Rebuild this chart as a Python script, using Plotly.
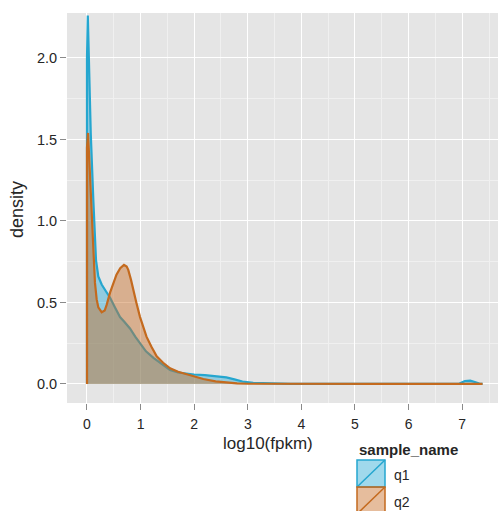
import plotly.graph_objects as go

# --- data ---
q1_x = [0, 0.0, 0.015, 0.035, 0.07, 0.118, 0.168, 0.211, 0.274, 0.35, 0.429, 0.52, 0.616, 0.70,
        0.802, 0.9, 0.989, 1.1, 1.24, 1.4, 1.55, 1.7, 1.86, 2.0, 2.2, 2.4, 2.6, 2.75, 2.9, 3.1,
        3.4, 3.8, 4.5, 5.5, 6.5, 6.95, 7.05, 7.15, 7.25, 7.32, 7.38]
q1_y = [0, 2.0, 2.26, 1.95, 1.54, 1.13, 0.76, 0.66, 0.61, 0.57, 0.53, 0.47, 0.41, 0.38,
        0.34, 0.29, 0.25, 0.20, 0.16, 0.12, 0.086, 0.07, 0.062, 0.058, 0.054, 0.048, 0.040, 0.028, 0.015, 0.006,
        0.002, 0.0005, 0, 0, 0, 0.002, 0.018, 0.02, 0.01, 0.002, 0]

q2_x = [0, 0.0, 0.02, 0.05, 0.087, 0.12, 0.149, 0.18, 0.211, 0.274, 0.33, 0.367, 0.43, 0.49,
        0.55, 0.62, 0.69, 0.74, 0.77, 0.82, 0.86, 0.92, 0.99, 1.05, 1.11, 1.2, 1.30, 1.42, 1.55,
        1.7, 1.86, 2.0, 2.17, 2.4, 2.6, 2.8, 3.0, 3.5, 4.5, 5.5, 6.5, 7.38]
q2_y = [0, 1.45, 1.54, 1.35, 1.09, 0.82, 0.62, 0.52, 0.47, 0.44, 0.45, 0.485, 0.56, 0.62,
        0.67, 0.71, 0.73, 0.72, 0.70, 0.64, 0.58, 0.50, 0.41, 0.35, 0.29, 0.23, 0.17, 0.13, 0.096,
        0.075, 0.061, 0.045, 0.03, 0.016, 0.008, 0.003, 0.001, 0, 0, 0, 0, 0]

samples = ["q1", "q2"]
x_ticks = [0, 1, 2, 3, 4, 5, 6, 7]
y_ticks = [0.0, 0.5, 1.0, 1.5, 2.0]

line_colors = {"q1": "#25A6CF", "q2": "#C46A1E"}
fill_colors = {"q1": "rgba(45,170,212,0.45)", "q2": "rgba(200,108,38,0.45)"}

FONT = "Liberation Sans, Arial, sans-serif"
TXT = "#262626"

fig = go.Figure()
for name, xs, ys in [("q1", q1_x, q1_y), ("q2", q2_x, q2_y)]:
    fig.add_trace(go.Scatter(
        x=xs, y=ys, mode="lines", name=name, fill="tozeroy",
        fillcolor=fill_colors[name],
        line=dict(color=line_colors[name], width=2.2),
        showlegend=False,
    ))

W, H = 498, 511
L, T, B = 67, 13, 108
pw, ph = W - L, H - T - B


def px2paper(px, py):
    return (px - L) / pw, (H - B - py) / ph


fig.update_layout(
    width=W, height=H,
    margin=dict(l=L, r=0, t=T, b=B),
    paper_bgcolor="white",
    plot_bgcolor="#E5E5E5",
    font=dict(family=FONT, size=12, color=TXT),
    xaxis=dict(
        range=[-0.373, 7.668], tickvals=x_ticks, ticktext=[str(v) for v in x_ticks],
        showgrid=True, gridcolor="white", gridwidth=1.4, zeroline=False, showline=False,
        ticks="outside", ticklen=6, tickcolor="#8A8A8A", tickwidth=1,
        ticklabelstandoff=2,
        tickfont=dict(size=14, color=TXT),
        minor=dict(tickvals=[0.5, 1.5, 2.5, 3.5, 4.5, 5.5, 6.5, 7.5], showgrid=True,
                   gridcolor="#F0F0F0", gridwidth=0.8, ticks=""),
    ),
    yaxis=dict(
        range=[-0.117, 2.276], tickvals=y_ticks, ticktext=["%.1f" % v for v in y_ticks],
        showgrid=True, gridcolor="white", gridwidth=1.4, zeroline=False, showline=False,
        ticks="outside", ticklen=6, tickcolor="#8A8A8A", tickwidth=1,
        tickfont=dict(size=14.5, color=TXT),
        minor=dict(tickvals=[0.25, 0.75, 1.25, 1.75], showgrid=True,
                   gridcolor="#F0F0F0", gridwidth=0.8, ticks=""),
    ),
)

# axis titles
ax, ay = px2paper(268, 443)
fig.add_annotation(text="log10(fpkm)", xref="paper", yref="paper", x=ax, y=ay,
                   showarrow=False, font=dict(size=17, color=TXT),
                   xanchor="center", yanchor="middle")
ax, ay = px2paper(17, 210)
fig.add_annotation(text="density", xref="paper", yref="paper", x=ax, y=ay,
                   showarrow=False, textangle=-90, font=dict(size=18, color=TXT),
                   xanchor="center", yanchor="middle")

# custom legend
tx, ty = px2paper(357, 449)
fig.add_annotation(text="<b>sample_name</b>", xref="paper", yref="paper", x=tx, y=ty,
                   showarrow=False, font=dict(size=15, color=TXT),
                   xanchor="left", yanchor="middle")
key_top = 460
key_h = 27
for i, name in enumerate(samples):
    y0 = key_top + i * key_h
    y1 = y0 + key_h
    x0p, y0p = px2paper(357, y0)
    x1p, y1p = px2paper(385, y1)
    fig.add_shape(type="rect", xref="paper", yref="paper", x0=x0p, x1=x1p, y0=y1p, y1=y0p,
                  fillcolor=fill_colors[name], line=dict(color=line_colors[name], width=1.5))
    fig.add_shape(type="line", xref="paper", yref="paper", x0=x0p, x1=x1p, y0=y1p, y1=y0p,
                  line=dict(color=line_colors[name], width=1.5))
    lx, ly = px2paper(392, (y0 + y1) / 2 + 1)
    fig.add_annotation(text=name, xref="paper", yref="paper", x=lx, y=ly, showarrow=False,
                       font=dict(size=14, color=TXT), xanchor="left", yanchor="middle")

fig.write_html("out.html")
